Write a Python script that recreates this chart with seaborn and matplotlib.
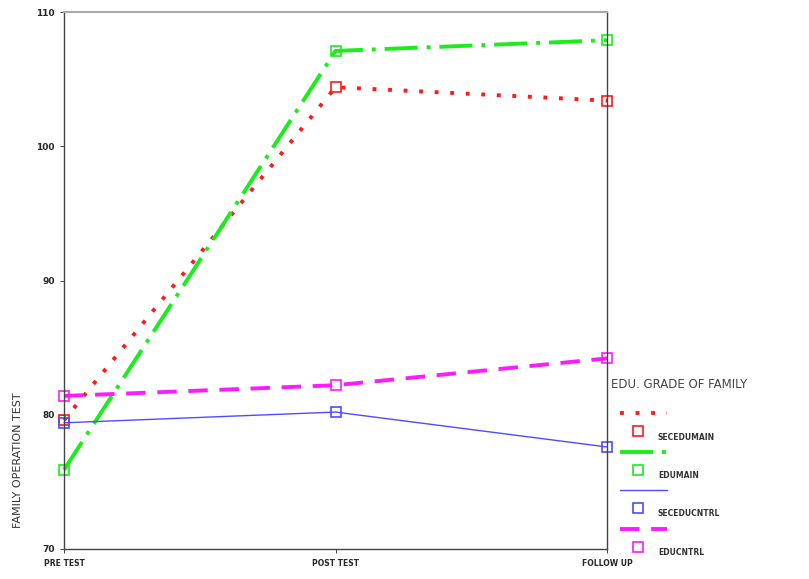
import seaborn as sns
import pandas as pd
import matplotlib.pyplot as plt
from matplotlib.lines import Line2D

# data
times = ['PRE TEST', 'POST TEST', 'FOLLOW UP']
groups = ['SECEDUMAIN', 'EDUMAIN', 'SECEDUCNTRL', 'EDUCNTRL']
secedu_main = [79.6, 104.4, 103.4]
edu_main = [75.9, 107.1, 107.9]
secedu_cntrl = [79.4, 80.2, 77.6]
edu_cntrl = [81.4, 82.2, 84.2]

colors = {'SECEDUMAIN': '#ff1a1a', 'EDUMAIN': '#1aee1a',
          'SECEDUCNTRL': '#4d4dff', 'EDUCNTRL': '#ff1aff'}
dashes = {'SECEDUMAIN': (1, 3), 'EDUMAIN': (8.5, 2.3, 1, 2.3),
          'SECEDUCNTRL': (None, None), 'EDUCNTRL': (5, 3)}
widths = {'SECEDUMAIN': 2.8, 'EDUMAIN': 2.8, 'SECEDUCNTRL': 1.0, 'EDUCNTRL': 2.8}

data = pd.DataFrame({
    'time': times * 4,
    'group': [g for g in groups for _ in times],
    'score': secedu_main + edu_main + secedu_cntrl + edu_cntrl,
})

sns.set_style('white')
fig = plt.figure(figsize=(8.09, 5.79), dpi=100)
ax = fig.add_axes([64 / 809, 1 - 549 / 579, (607 - 64) / 809, (549 - 12) / 579])

for g in groups:
    d = data[data['group'] == g]
    sns.lineplot(x='time', y='score', data=d, color=colors[g], lw=widths[g],
                 ax=ax, sort=False)
    l = ax.lines[-1]
    if dashes[g][0] is not None:
        l.set_dashes(dashes[g])
    l.set_clip_on(False)
    ax.plot(range(len(times)), d['score'], ls='none', marker='s', ms=7.5, mfc='none',
            mec=colors[g], mew=1.2, clip_on=False)

ax.set_xlim(0, 2)
ax.set_ylim(70, 110)
ax.set_yticks([70, 80, 90, 100, 110])
ax.set_xticks(range(len(times)))
ax.set_xticklabels(times, fontsize=5.5, fontweight='bold')
ax.tick_params(axis='y', labelsize=6.5, length=3, left=True, width=0.6)
ax.tick_params(axis='x', length=3, bottom=True, width=0.6, pad=4)
for lab in ax.get_yticklabels():
    lab.set_fontweight('bold')
ax.set_xlabel('')
ax.set_ylabel('FAMILY OPERATION TEST', fontsize=8, color='#333333')
ax.yaxis.set_label_coords(-0.075, 0.165)
for s in ['left', 'bottom', 'right']:
    ax.spines[s].set_color('#444444')
    ax.spines[s].set_linewidth(1.0)
ax.spines['top'].set_color('#aaaaaa')
ax.spines['top'].set_linewidth(1.5)

# SPSS-style legend: line sample, then marker with label below
lax = fig.add_axes([0, 0, 1, 1])
lax.set_xlim(0, 809)
lax.set_ylim(579, 0)
lax.axis('off')
lax.text(611, 385, 'EDU. GRADE OF FAMILY', fontsize=8.5, color='#444444', va='center')
for i, g in enumerate(groups):
    y0 = 413 + i * 38.5
    ln = Line2D([620, 667], [y0, y0], color=colors[g], lw=widths[g])
    if dashes[g][0] is not None:
        ln.set_dashes(dashes[g])
    lax.add_line(ln)
    lax.plot([638], [y0 + 18], ls='none', marker='s', ms=7.5, mfc='none',
             mec=colors[g], mew=1.2)
    lax.text(658, y0 + 24, g, fontsize=5.5, fontweight='bold', color='#333333', va='center')

fig.savefig('out.png', dpi=100)
